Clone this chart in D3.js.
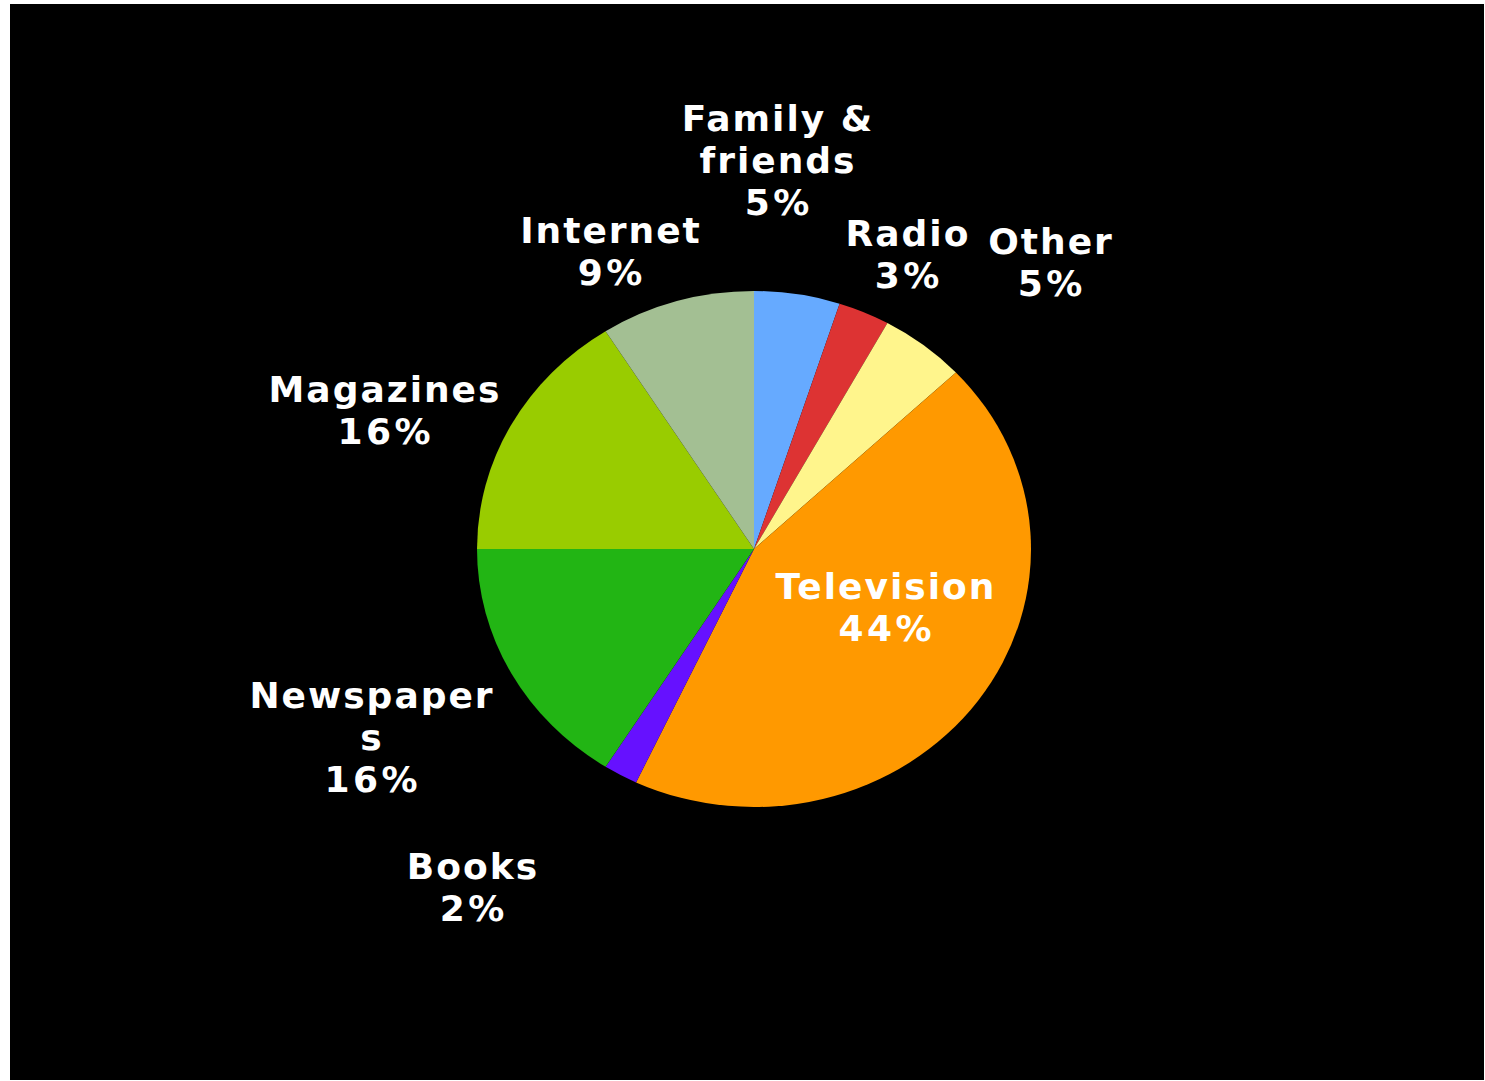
<!DOCTYPE html>
<html>
<head>
<meta charset="utf-8">
<script src="https://cdn.jsdelivr.net/npm/d3@7"></script>
<style>
  html, body { margin: 0; padding: 0; background: #fff; }
  svg { display: block; }
</style>
</head>
<body>
<div id="chart"></div>
<script>
// data, clockwise from 12 o'clock
const categories = ["Family & friends", "Radio", "Other", "Television", "Books", "Newspapers", "Magazines", "Internet"];
const shares = [5, 3, 5, 44, 2, 16, 16, 9];
const percentLabels = ["5%", "3%", "5%", "44%", "2%", "16%", "16%", "9%"];
const sliceColors = ["#66aaff", "#dd3333", "#fff58c", "#ff9900", "#6611ff", "#22b514", "#99cc00", "#a3bf93"];

// how each label is broken into lines, and where its block is centred
const labelLines = [["Family &", "friends"], ["Radio"], ["Other"], ["Television"], ["Books"], ["Newspaper", "s"], ["Magazines"], ["Internet"]];
const labelCenter = [[777, 160], [907, 254], [1050, 262], [885, 607], [472, 887], [371, 737], [384, 410], [610, 251]];

const width = 1485, height = 1081;
const cx = 754, cy = 549, rx = 277, ry = 258;
const lineH = 42, fontSize = 36;

const svg = d3.select("#chart").append("svg")
    .attr("width", width)
    .attr("height", height);

svg.append("rect")
    .attr("x", 10).attr("y", 4)
    .attr("width", width - 11).attr("height", height - 5)
    .attr("fill", "#000");

const pie = d3.pie().value(d => d).sort(null);
const arcs = pie(shares);
const arc = d3.arc().innerRadius(0).outerRadius(ry);

// pie is a bit wider than tall, so stretch it horizontally
const g = svg.append("g")
    .attr("transform", `translate(${cx},${cy}) scale(${rx / ry},1)`);

g.selectAll("path")
    .data(arcs)
    .join("path")
        .attr("d", arc)
        .attr("fill", (d, i) => sliceColors[i]);

const labels = svg.append("g")
    .attr("font-family", "'DejaVu Sans', Verdana, sans-serif")
    .attr("font-weight", "bold")
    .attr("font-size", fontSize)
    .attr("fill", "#fff")
    .attr("text-anchor", "middle")
    .selectAll("text")
    .data(categories)
    .join("text")
        .attr("x", (d, i) => labelCenter[i][0])
        .attr("y", (d, i) => labelCenter[i][1]);

labels.each(function(d, i) {
    const lines = labelLines[i].concat([percentLabels[i]]);
    const last = lines.length - 1;
    const top = -last * lineH / 2;
    d3.select(this).selectAll("tspan")
        .data(lines)
        .join("tspan")
            // digits in the original font run wider, so space them a bit more
            .attr("letter-spacing", (t, j) => j === last ? 3.5 : 2)
            .attr("x", (t, j) => labelCenter[i][0] + (j === last ? 1.75 : 1))
            .attr("y", (t, j) => labelCenter[i][1] + top + j * lineH)
            .attr("dy", "0.35em")
            .text(t => t);
});
</script>
</body>
</html>
